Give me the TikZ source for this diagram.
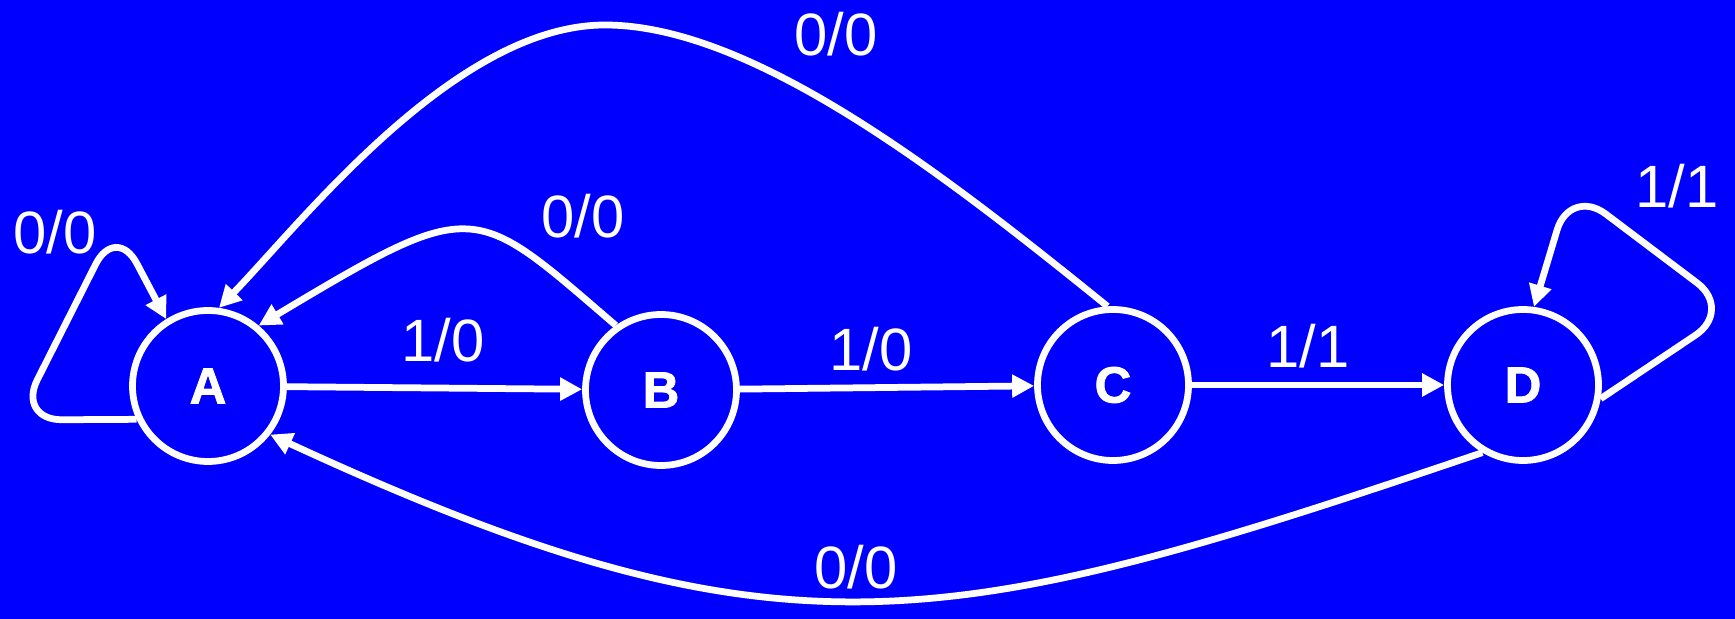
\documentclass[tikz,border=0pt]{standalone}
\usepackage{fontspec}
\setmainfont{Liberation Sans}
\newfontfamily\statefont[FakeBold=1.6]{Liberation Sans Bold}
\usetikzlibrary{arrows.meta}
\definecolor{bgblue}{RGB}{0,0,255}

\begin{document}
\begin{tikzpicture}[
  x=0.2mm, y=-0.2mm,
  state/.style={circle, draw=white, line width=1.35mm, minimum size=30.2mm,
                inner sep=0pt, text=white,
                font=\statefont\fontsize{29}{32}\selectfont},
  lbl/.style={text=white, inner sep=0pt, font=\fontsize{34}{38}\selectfont},
  arr/.style={draw=white, line width=1.35mm, -{Triangle[length=4.4mm,width=4.4mm]}},
  selfarr/.style={arr, rounded corners=9mm}
]
\useasboundingbox (0,0) rectangle (1735,619);
\fill[bgblue] (0,0) rectangle (1735,619);

\node[state] (a) at (208,386) {A};
\node[state] (b) at (661,390) {B};
\node[state] (c) at (1113,385) {C};
\node[state] (d) at (1523,385) {D};
\coordinate (topca) at (605,25);

% forward edges
\draw[arr] (a) -- (b);
\draw[arr] (b) -- (c);
\draw[arr] (c) -- (d);

% back to A
\draw[arr] (b.125) .. controls (472,202) and (477,195) .. (a.50);
\draw[arr] (c.94) .. controls (951,180) and (755,25) .. (topca)
                  .. controls (455,25) and (302,222) .. (a.82);
\draw[arr] (d.239) .. controls (947,634) and (784,672) .. (a.322);

% self loops
\draw[selfarr] (a.205) -- (17,420) -- (116,224) -- (a.122);
\draw[selfarr] (d.-10) -- (1733,310) -- (1570,187) -- (d.82);

\node[lbl] (l-aa) at (55,232) {0/0};
\node[lbl] (l-ba) at (583,216) {0/0};
\node[lbl] (l-ca) at (836,34) {0/0};
\node[lbl] (l-da) at (856,567) {0/0};
\node[lbl] (l-ab) at (443,340) {1/0};
\node[lbl] (l-bc) at (871,349) {1/0};
\node[lbl] (l-cd) at (1308,346) {1/1};
\node[lbl] (l-dd) at (1677,186) {1/1};
\end{tikzpicture}
\end{document}
